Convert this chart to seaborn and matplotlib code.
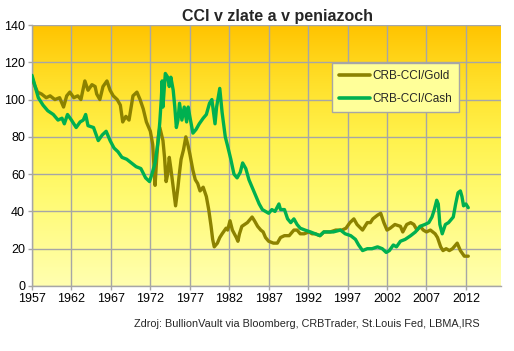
import numpy as np
import pandas as pd
import matplotlib
matplotlib.use("Agg")
import matplotlib.pyplot as plt
from matplotlib.colors import LinearSegmentedColormap
import seaborn as sns

title = "CCI v zlate a v peniazoch"
source = "Zdroj: BullionVault via Bloomberg, CRBTrader, St.Louis Fed, LBMA,IRS"
x_ticks = [1957, 1962, 1967, 1972, 1977, 1982, 1987, 1992, 1997, 2002, 2007, 2012]
y_ticks = [0, 20, 40, 60, 80, 100, 120, 140]

gold_years = [1957.0, 1957.3, 1957.7, 1958.2, 1958.8, 1959.3, 1959.9, 1960.5, 1961.0, 1961.4,
              1961.8, 1962.3, 1962.8, 1963.2, 1963.5, 1963.7, 1964.1, 1964.6, 1965.0, 1965.2,
              1965.6, 1966.0, 1966.5, 1966.9, 1967.3, 1967.8, 1968.2, 1968.5, 1968.9, 1969.3,
              1969.8, 1970.3, 1970.7, 1971.1, 1971.5, 1972.0, 1972.3, 1972.6, 1972.8, 1973.0,
              1973.2, 1973.6, 1973.8, 1974.0, 1974.2, 1974.4, 1974.6, 1974.9, 1975.2, 1975.5,
              1975.7, 1975.9, 1976.2, 1976.5, 1976.8, 1977.0, 1977.4, 1977.7, 1978.0, 1978.3,
              1978.7, 1979.1, 1979.4, 1979.7, 1979.9, 1980.1, 1980.5, 1980.8, 1981.1, 1981.6,
              1981.8, 1982.1, 1982.4, 1982.9, 1983.1, 1983.3, 1983.6, 1984.3, 1984.9, 1985.2,
              1985.6, 1986.0, 1986.3, 1986.6, 1987.0, 1987.6, 1988.1, 1988.5, 1989.0, 1989.6,
              1990.2, 1990.6, 1991.0, 1991.5, 1992.1, 1992.5, 1992.9, 1993.5, 1994.0, 1994.8,
              1995.5, 1996.3, 1996.8, 1997.3, 1997.8, 1998.2, 1998.9, 1999.5, 1999.9, 2000.2,
              2000.8, 2001.2, 2001.6, 2002.0, 2002.4, 2003.0, 2003.7, 2004.0, 2004.5, 2005.0,
              2005.4, 2005.8, 2006.2, 2006.6, 2007.0, 2007.5, 2008.1, 2008.4, 2008.8, 2009.1,
              2009.5, 2009.9, 2010.3, 2010.9, 2011.3, 2011.8, 2012.3]
gold_values = [112, 108, 104, 103, 101, 102, 100, 101, 96, 102,
               104, 101, 102, 100, 106, 110, 105, 108, 107, 103,
               100, 107, 110, 105, 102, 100, 97, 88, 91, 89,
               102, 104, 100, 95, 88, 83, 76, 54, 68, 80,
               85, 78, 69, 56, 60, 69, 63, 53, 43, 53,
               61, 68, 73, 80, 75, 71, 62, 57, 55, 51,
               53, 48, 41, 32, 25, 21, 23, 26, 28, 31,
               30, 35, 30, 26, 24, 28, 32, 34, 37, 35,
               32, 30, 29, 26, 24, 23, 23, 26, 27, 27,
               30, 30, 28, 28, 29, 28, 28, 27, 29, 29,
               30, 30, 31, 34, 36, 33, 30, 34, 34, 36,
               38, 39, 34, 30, 31, 33, 32, 29, 33, 34,
               33, 30, 32, 30, 29, 30, 28, 26, 21, 19,
               20, 19, 20, 23, 19, 16, 16]

cash_years = [1957.0, 1957.4, 1957.8, 1958.4, 1959.0, 1959.7, 1960.3, 1960.8, 1961.1, 1961.5,
              1962.0, 1962.6, 1963.1, 1963.5, 1963.8, 1964.1, 1964.8, 1965.4, 1965.9, 1966.4,
              1966.9, 1967.4, 1967.9, 1968.4, 1969.0, 1969.6, 1970.2, 1970.8, 1971.4, 1971.9,
              1972.2, 1972.6, 1973.0, 1973.2, 1973.4, 1973.5, 1973.6, 1973.9, 1974.2, 1974.4,
              1974.6, 1974.9, 1975.1, 1975.3, 1975.5, 1975.7, 1976.0, 1976.3, 1976.6, 1976.8,
              1977.0, 1977.4, 1977.8, 1978.2, 1978.7, 1979.1, 1979.5, 1979.8, 1980.2, 1980.4,
              1980.8, 1981.1, 1981.5, 1981.8, 1982.2, 1982.6, 1983.0, 1983.4, 1983.7, 1984.1,
              1984.5, 1984.9, 1985.4, 1985.8, 1986.2, 1986.6, 1987.0, 1987.4, 1987.8, 1988.3,
              1988.5, 1989.0, 1989.4, 1989.8, 1990.2, 1990.6, 1991.0, 1991.6, 1992.3, 1992.9,
              1993.5, 1994.0, 1995.2, 1996.1, 1996.7, 1997.4, 1998.0, 1998.4, 1998.9, 1999.5,
              2000.1, 2000.8, 2001.4, 2001.9, 2002.3, 2002.8, 2003.2, 2003.7, 2004.3, 2005.0,
              2005.6, 2006.2, 2006.8, 2007.3, 2007.7, 2008.0, 2008.3, 2008.5, 2008.7, 2009.0,
              2009.4, 2009.8, 2010.4, 2010.7, 2011.0, 2011.3, 2011.5, 2011.7, 2012.0, 2012.3]
cash_values = [113, 107, 101, 97, 94, 92, 89, 90, 87, 92,
               89, 85, 88, 89, 92, 86, 85, 78, 81, 83,
               78, 74, 72, 69, 68, 66, 64, 63, 58, 56,
               60, 66, 78, 88, 101, 110, 96, 114, 112, 107,
               112, 105, 96, 85, 89, 98, 89, 96, 88, 96,
               91, 82, 84, 87, 90, 92, 98, 100, 87, 96,
               106, 93, 80, 75, 68, 60, 58, 61, 66, 63,
               57, 53, 48, 44, 41, 40, 39, 41, 40, 44,
               41, 41, 36, 34, 36, 33, 31, 30, 29, 28,
               27, 29, 29, 30, 28, 27, 25, 22, 19, 20,
               20, 21, 20, 18, 19, 22, 21, 24, 25, 27,
               29, 32, 33, 34, 37, 41, 46, 44, 33, 28,
               33, 34, 37, 44, 50, 51, 48, 43, 44, 42]

gold_name = "CRB-CCI/Gold"
cash_name = "CRB-CCI/Cash"
gold_color = "#8C8200"
cash_color = "#00B050"

df = pd.concat([
    pd.DataFrame({"year": gold_years, "value": gold_values, "series": gold_name}),
    pd.DataFrame({"year": cash_years, "value": cash_values, "series": cash_name}),
], ignore_index=True)

sns.set_theme(style="white")
plt.rcParams["font.family"] = ["Liberation Sans", "DejaVu Sans"]

fig = plt.figure(figsize=(5.14, 3.51), dpi=100)
fig.patch.set_facecolor("white")
ax = fig.add_axes([32 / 514, 1 - 286 / 351, (501 - 32) / 514, (286 - 25) / 351])

xmin, xmax = 1957, 2016.45
ymin, ymax = 0, 140

# gradient background
cmap = LinearSegmentedColormap.from_list(
    "bg", [(0.0, "#FFFFB0"), (0.35, "#FFFA70"), (0.57, "#FFF24C"),
           (0.78, "#FFE02A"), (1.0, "#FFC400")])
grad = np.linspace(0, 1, 256).reshape(-1, 1)
ax.imshow(grad, extent=[xmin, xmax, ymin, ymax], origin="lower", aspect="auto",
          cmap=cmap, zorder=0, interpolation="bicubic")

sns.lineplot(data=df, x="year", y="value", hue="series", sort=False,
             palette={gold_name: gold_color, cash_name: cash_color},
             linewidth=2.4, ax=ax, zorder=3, estimator=None)

ax.set_xlim(xmin, xmax)
ax.set_ylim(ymin, ymax)
ax.set_xticks(x_ticks)
ax.set_yticks(y_ticks)
ax.set_xlabel("")
ax.set_ylabel("")
ax.grid(True, color="#A6A6A6", linewidth=1.0, zorder=1)
ax.set_axisbelow(False)
for gl in ax.get_xgridlines() + ax.get_ygridlines():
    gl.set_zorder(1)
for s in ["top", "right"]:
    ax.spines[s].set_visible(False)
for s in ["left", "bottom"]:
    ax.spines[s].set_color("#A6A6A6")
    ax.spines[s].set_linewidth(1.0)
    ax.spines[s].set_zorder(2)
ax.tick_params(axis="both", which="both", labelsize=9, colors="#A6A6A6",
               labelcolor="black", length=3, width=1.0, direction="out",
               bottom=True, left=True, pad=2)

leg = ax.legend(loc="upper left", bbox_to_anchor=((332 - 32) / 469, 1 - (63 - 25) / 261),
                fontsize=8.5, frameon=True, fancybox=False, handlelength=2.6,
                handletextpad=0.2, borderpad=0.6, labelspacing=0.9,
                borderaxespad=0)
leg.get_frame().set_facecolor("#FFFF99")
leg.get_frame().set_edgecolor("#A6A6A6")
leg.get_frame().set_alpha(1)
for line in leg.get_lines():
    line.set_linewidth(2.6)
leg.set_zorder(5)

fig.text(277 / 514, 1 - 17 / 351, title, ha="center", va="center",
         fontsize=11.5, fontweight="bold")
fig.text(480 / 514, 1 - 324 / 351, source, ha="right", va="center", fontsize=7.8)

fig.savefig("out.png", dpi=100)
